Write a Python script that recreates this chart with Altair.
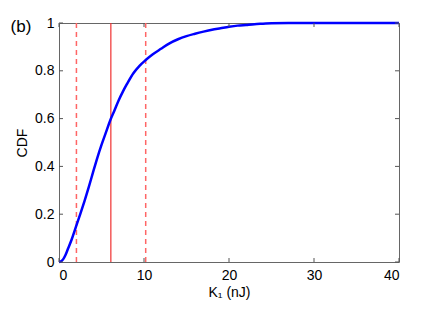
import altair as alt
import pandas as pd

# CDF curve
k1_values = [0, 0.25, 0.5, 0.75, 1.0, 1.5, 2.0, 2.5, 3.0, 3.5, 4.0, 4.5, 5.0, 5.5, 6.0, 6.5, 7.0, 7.5, 8.0,
             8.75, 9.5, 10.2, 11.0, 12.0, 13.0, 14.0, 15.0, 16.0, 17.0, 18.0, 19.0, 20.0, 21.0, 22.0, 23.0,
             24.0, 25.0, 27.0, 30.0, 35.0, 40.0]
cdf_values = [0, 0.003, 0.012, 0.028, 0.05, 0.095, 0.148, 0.2, 0.255, 0.313, 0.375, 0.435, 0.49, 0.54, 0.59,
              0.632, 0.675, 0.712, 0.745, 0.79, 0.822, 0.845, 0.868, 0.892, 0.915, 0.932, 0.945, 0.955, 0.964,
              0.972, 0.978, 0.984, 0.989, 0.992, 0.995, 0.997, 0.999, 1.0, 1.0, 1.0, 1.0]

# vertical reference lines
vline_x = [2.05, 6.1, 10.2]
vline_style = ["dashed", "solid", "dashed"]

x_ticks = [0, 10, 20, 30, 40]
y_ticks = [0, 0.2, 0.4, 0.6, 0.8, 1.0]
panel_label = ["(b)"]

W, H = 340, 239
FONT = "Liberation Sans"

xscale = alt.Scale(domain=[0, 40], nice=False, zero=False)
yscale = alt.Scale(domain=[0, 1], nice=False)

curve_df = pd.DataFrame({"k1": k1_values, "cdf": cdf_values})
vdf = pd.DataFrame({"x": vline_x, "style": vline_style})
xt = pd.DataFrame({"x": x_ticks})
yt = pd.DataFrame({"y": y_ticks})

xaxis = alt.Axis(values=x_ticks, title="K\u2081 (nJ)", grid=False, ticks=False, domain=False,
                 labelPadding=6, titlePadding=3, format="~g")
yaxis = alt.Axis(values=y_ticks, title="CDF", grid=False, ticks=False, domain=False,
                 labelPadding=5, titlePadding=5, format="~g")

curve = alt.Chart(curve_df).mark_line(color="#0000ff", strokeWidth=2.5, interpolate="monotone").encode(
    x=alt.X("k1:Q", scale=xscale, axis=xaxis),
    y=alt.Y("cdf:Q", scale=yscale, axis=yaxis),
)

dashed = alt.Chart(vdf).transform_filter(alt.datum.style == "dashed").mark_rule(
    color="#ff6666", strokeWidth=1.5, strokeDash=[5, 4]
).encode(x=alt.X("x:Q", scale=xscale))

solid = alt.Chart(vdf).transform_filter(alt.datum.style == "solid").mark_rule(
    color="#f03030", strokeWidth=1.2
).encode(x=alt.X("x:Q", scale=xscale))

tick_color = "#555555"
bt = alt.Chart(xt).mark_rule(color=tick_color).encode(
    x=alt.X("x:Q", scale=xscale), y=alt.value(H), y2=alt.value(H - 4))
tt = alt.Chart(xt).mark_rule(color=tick_color).encode(
    x=alt.X("x:Q", scale=xscale), y=alt.value(0), y2=alt.value(4))
lt = alt.Chart(yt).mark_rule(color=tick_color).encode(
    y=alt.Y("y:Q", scale=yscale), x=alt.value(0), x2=alt.value(4))
rt = alt.Chart(yt).mark_rule(color=tick_color).encode(
    y=alt.Y("y:Q", scale=yscale), x=alt.value(W), x2=alt.value(W - 4))

label = alt.Chart(pd.DataFrame({"t": panel_label})).mark_text(
    font=FONT, fontSize=17, align="center", baseline="middle"
).encode(text="t:N", x=alt.value(-38), y=alt.value(4))

chart = alt.layer(dashed, solid, curve, bt, tt, lt, rt, label).properties(
    width=W, height=H,
    autosize=alt.AutoSizeParams(type="none"),
    padding={"left": 51, "top": 15, "right": 35, "bottom": 40},
).configure_view(
    stroke="#666666", strokeWidth=1
).configure_axis(
    labelFont=FONT, labelFontSize=14, labelColor="black",
    titleFont=FONT, titleFontSize=14, titleFontWeight="normal", titleColor="black",
)

chart.save("out.html", embed_options={"renderer": "svg", "actions": False})
